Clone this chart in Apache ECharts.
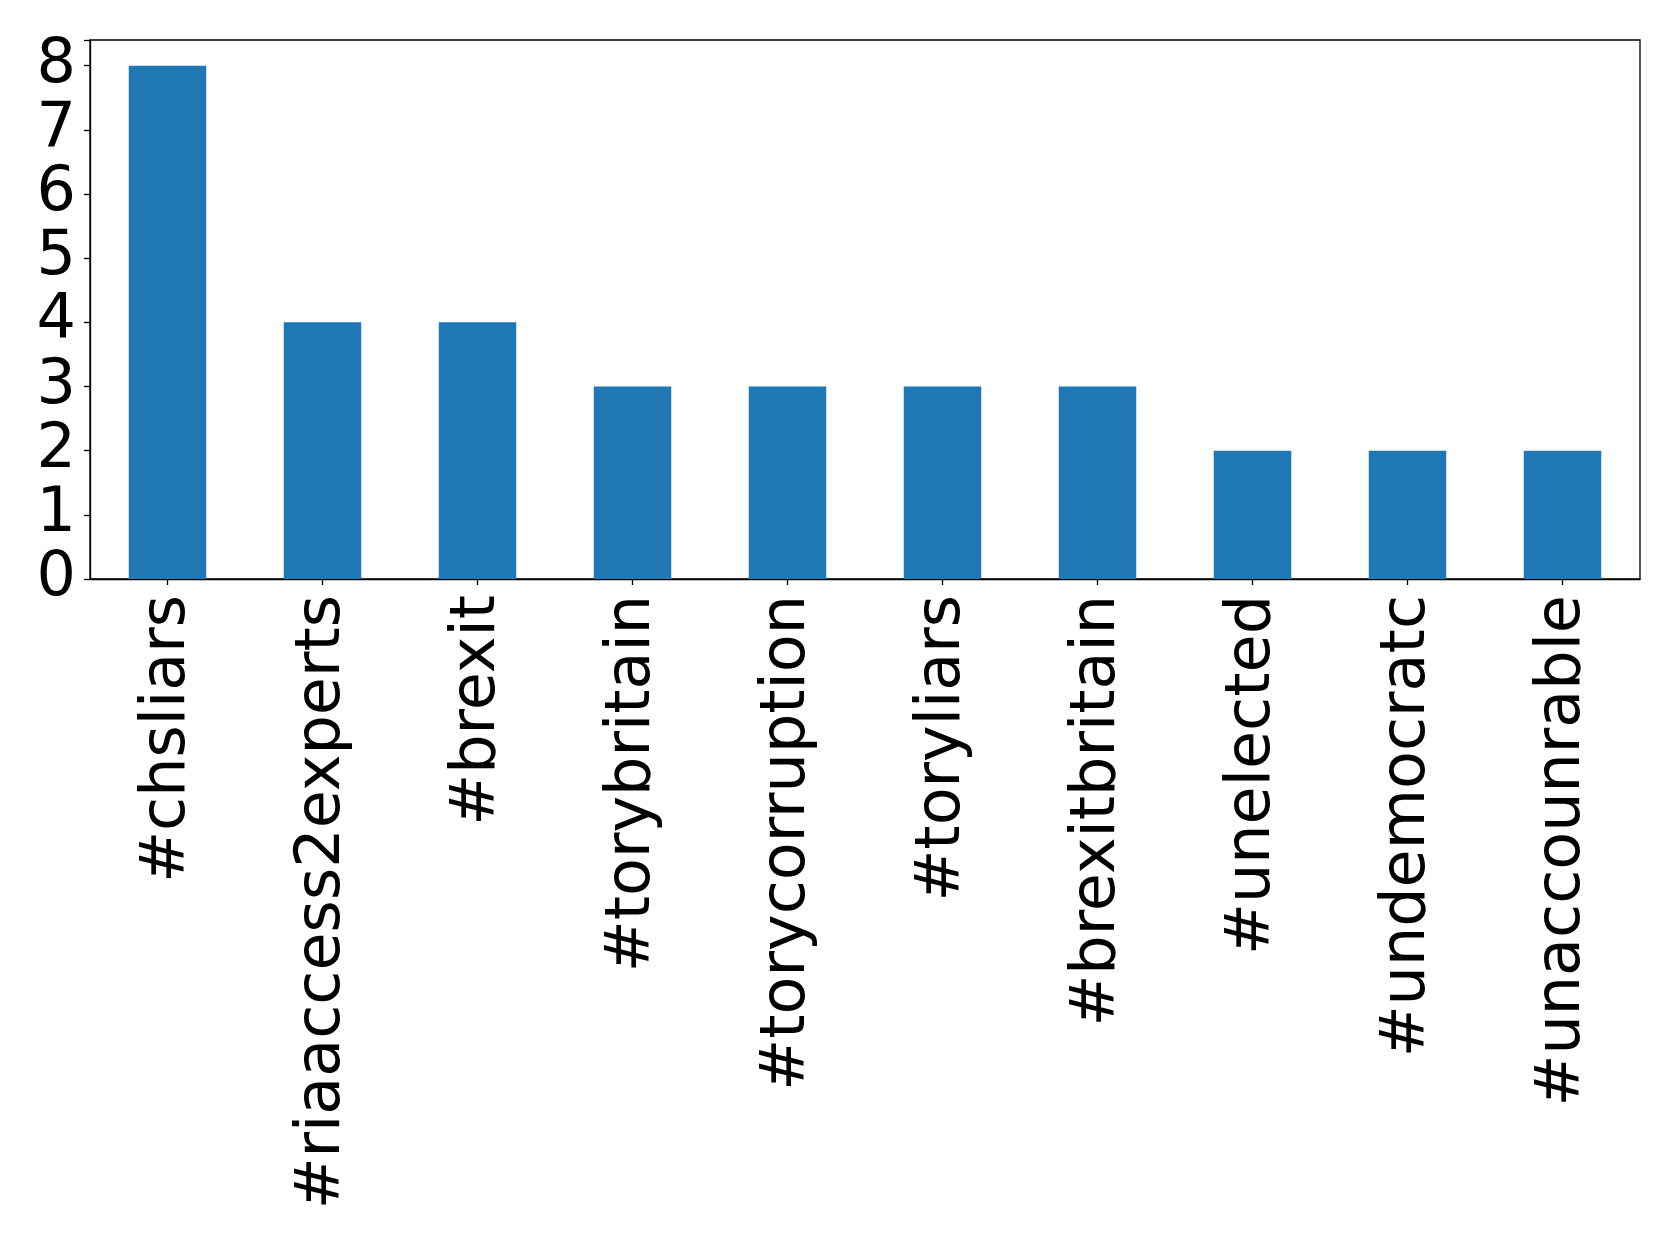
<!DOCTYPE html>
<html><head><meta charset="utf-8">
<script src="https://cdn.jsdelivr.net/npm/echarts@6/dist/echarts.min.js"></script>
<style>html,body{margin:0;padding:0;background:#fff}#c{width:1679px;height:1248px}</style>
</head><body><div id="c"></div>
<script>
const categories = ['#chsliars','#riaaccess2experts','#brexit','#torybritain','#torycorruption','#toryliars','#brexitbritain','#unelected','#undemocratc','#unaccounrable'];
const counts = [8,4,4,3,3,3,3,2,2,2];
const yTicks = [0,1,2,3,4,5,6,7,8];
const chart = echarts.init(document.getElementById('c'), null, {renderer:'canvas'});
chart.setOption({
  animation:false,
  backgroundColor:'#fff',
  grid:{left:90,right:39,top:40,bottom:669,show:true,borderColor:'#000',borderWidth:1.3,backgroundColor:'transparent'},
  xAxis:{type:'category',data:categories,boundaryGap:true,
    axisLine:{show:true,lineStyle:{color:'#000',width:1.3}},
    axisTick:{show:true,alignWithLabel:true,length:6,inside:false,lineStyle:{color:'#000',width:1.3}},
    axisLabel:{rotate:90,margin:16,padding:[8,0,0,0],fontFamily:'DejaVu Sans',fontSize:62,color:'#000',interval:0}},
  yAxis:{type:'value',min:0,max:8.4,interval:1,
    splitLine:{show:false},
    axisLine:{show:true,lineStyle:{color:'#000',width:1.3}},
    axisTick:{show:true,length:6,lineStyle:{color:'#000',width:1.3}},
    axisLabel:{margin:14,fontFamily:'DejaVu Sans',fontSize:62,color:'#000',
      formatter:v=> yTicks.includes(v)?String(v):''}},
  series:[{type:'bar',data:counts,barWidth:'50%',itemStyle:{color:'#1f77b4'}}]
});
</script></body></html>
